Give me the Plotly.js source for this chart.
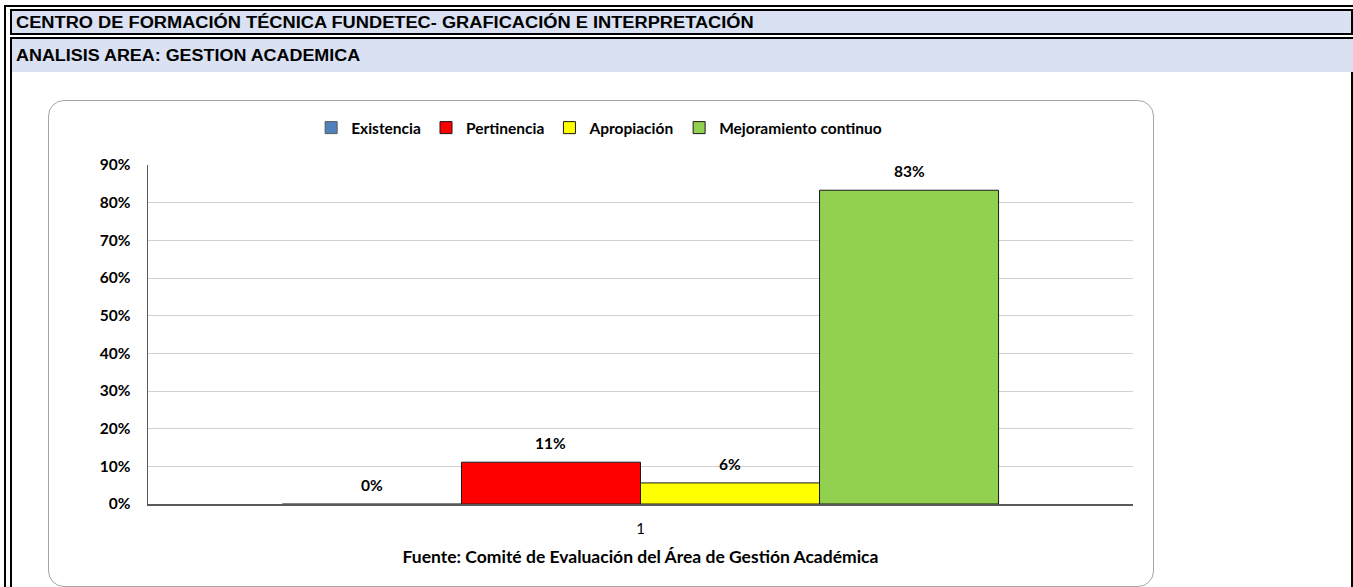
<!DOCTYPE html>
<html>
<head>
<meta charset="utf-8">
<script src="https://cdn.plot.ly/plotly-3.0.1.min.js"></script>
<style>
  html, body { margin: 0; padding: 0; background: #ffffff; }
  body { width: 1353px; height: 587px; position: relative; overflow: hidden; font-family: "Liberation Sans", Arial, sans-serif; }
  .abs { position: absolute; box-sizing: border-box; }
  .hdr { position: absolute; left: 4px; top: 0; white-space: nowrap; font-weight: bold; font-size: 16px; color: #000; transform: scaleX(1.14); transform-origin: left center; }
  #plot { position: absolute; left: 0; top: 0; width: 1353px; height: 587px; }
</style>
</head>
<body>
  <div class="abs" style="left:4px;top:5px;width:1349px;height:2px;background:#000;"></div>
  <div class="abs" style="left:4px;top:5px;width:2px;height:582px;background:#000;"></div>
  <div class="abs" style="left:10px;top:9px;width:1343px;height:26px;border:2px solid #000;background:#D9E1F2;">
    <div class="hdr" style="top:3px;">CENTRO DE FORMACIÓN TÉCNICA FUNDETEC- GRAFICACIÓN E INTERPRETACIÓN</div>
  </div>
  <div class="abs" style="left:10px;top:37px;width:1343px;height:560px;border-top:2px solid #000;border-left:2px solid #000;border-right:2px solid #000;background:#fff;">
    <div class="abs" style="left:0;top:0;width:1341px;height:33px;background:#D9E1F2;"></div>
    <div class="hdr" style="top:8px;transform:scaleX(1.12);">ANALISIS AREA: GESTION ACADEMICA</div>
  </div>
  <div class="abs" style="left:48px;top:100px;width:1106px;height:487px;border:1px solid #A6A6A6;border-radius:16px;background:#fff;"></div>
  <div id="plot"></div>
<script>
// ---- data ----
const categories = ["1"];
const seriesNames = ["Existencia", "Pertinencia", "Apropiación", "Mejoramiento continuo"];
const seriesValues = [0.0, 0.111, 0.056, 0.833];
const seriesColors = ["#4F81BD", "#FF0000", "#FFFF00", "#92D050"];
const yTickVals = [0, 0.1, 0.2, 0.3, 0.4, 0.5, 0.6, 0.7, 0.8, 0.9];
const yTickText = ["0%", "10%", "20%", "30%", "40%", "50%", "60%", "70%", "80%", "90%"];
const xTitle = "Fuente: Comité de Evaluación del Área de Gestión Académica";

const FONT = "Lato, 'Open Sans', sans-serif";
const AXIS_COLOR = "#595959";
const bargap = 0.273;
const nSeries = seriesNames.length;

const traces = seriesNames.map((name, i) => ({
  type: "bar",
  name: name,
  x: [1],
  y: [seriesValues[i]],
  marker: { color: seriesColors[i], line: { color: seriesValues[i] > 0 ? "#1a1a1a" : AXIS_COLOR, width: 1 } },
  hoverinfo: "name+y"
}));

// data labels placed above each grouped bar, derived from the group layout
const bw = (1 - bargap) / nSeries;
const annotations = seriesValues.map((v, i) => ({
  xref: "x", yref: "y",
  x: 1 + (i - (nSeries - 1) / 2) * bw,
  y: v,
  text: Math.round(v * 100) + "%",
  showarrow: false,
  yanchor: "bottom",
  yshift: 8,
  font: { family: FONT, size: 15.5, color: "#000", weight: "bold" }
}));

const layout = {
  width: 1353, height: 587,
  margin: { l: 148, r: 220, t: 165, b: 83 },
  paper_bgcolor: "rgba(0,0,0,0)",
  plot_bgcolor: "rgba(0,0,0,0)",
  barmode: "group",
  bargap: bargap,
  bargroupgap: 0,
  showlegend: true,
  legend: {
    orientation: "h", x: 0.458, xanchor: "center", y: 1.109, yanchor: "middle",
    font: { family: FONT, size: 15.5, color: "#000", weight: "bold" },
    itemwidth: 30, tracegroupgap: 0, traceorder: "normal"
  },
  xaxis: {
    type: "linear",
    range: [0.5, 1.5],
    tickvals: [1], ticktext: categories,
    showgrid: false, zeroline: false,
    showline: true, linecolor: AXIS_COLOR, linewidth: 1.5,
    ticks: "", ticklabelstandoff: 10,
    tickfont: { family: FONT, size: 15, color: "#000" },
    title: { text: xTitle, standoff: 15, font: { family: FONT, size: 17.5, color: "#000", weight: "bold" } },
    fixedrange: true
  },
  yaxis: {
    range: [0, 0.9],
    tickvals: yTickVals, ticktext: yTickText,
    showgrid: true, gridcolor: "#D0D0D0", gridwidth: 1,
    zeroline: false,
    showline: true, linecolor: AXIS_COLOR, linewidth: 1.5,
    ticks: "", ticklabelstandoff: 13,
    tickfont: { family: FONT, size: 15.5, color: "#000", weight: "bold" },
    fixedrange: true
  },
  annotations: annotations
};

Plotly.newPlot("plot", traces, layout, { displayModeBar: false, staticPlot: true });
</script>
</body>
</html>
